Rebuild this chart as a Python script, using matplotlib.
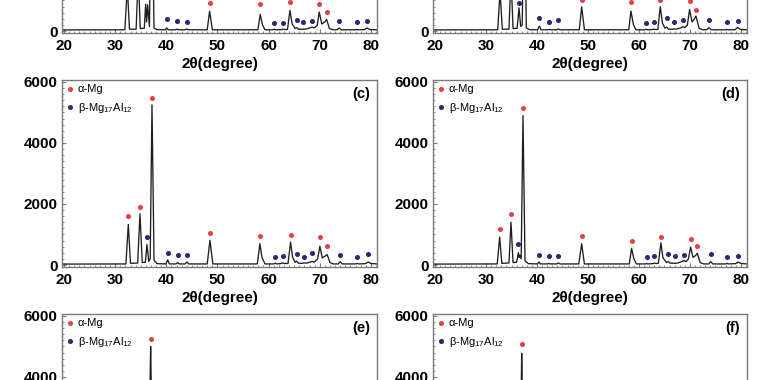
import matplotlib

matplotlib.use("Agg")

import matplotlib.pyplot as plt
from matplotlib.lines import Line2D
from matplotlib.ticker import MultipleLocator

plt.rcParams["font.family"] = ["Liberation Sans", "DejaVu Sans"]
plt.rcParams["mathtext.default"] = "regular"

RED = "#e4404a"
BLUE = "#262a6e"

# XRD traces, (2theta, intensity) vertices
TRACE_A = [
    (19.6, 35), (31.9, 40), (32.37, 1450), (32.8, 60), (34.1, 60), (34.52, 1900), (34.9, 80),
    (35.7, 90), (35.96, 880), (36.15, 300), (36.35, 860), (36.7, 150), (37.14, 5200), (37.6, 90),
    (38.2, 45), (39.8, 40), (40.07, 100), (40.4, 40), (41.8, 40), (42.08, 60), (42.4, 40),
    (43.7, 40), (43.98, 70), (44.3, 40), (48.0, 40), (48.47, 653), (49.0, 40),
    (57.9, 40), (58.37, 545), (58.8, 200), (59.3, 40), (60.8, 40), (61.1, 55), (61.4, 40),
    (62.5, 45), (62.74, 60), (63.0, 50), (63.7, 50), (64.17, 675), (64.6, 230), (65.2, 80),
    (65.48, 110), (65.8, 60), (66.4, 55), (66.65, 60), (67.2, 60), (68.1, 100), (68.47, 130),
    (68.9, 100), (69.5, 180), (69.9, 621), (70.4, 230), (71.0, 300), (71.34, 382), (71.9, 80),
    (72.6, 40), (73.4, 40), (73.81, 100), (74.2, 40), (76.9, 40), (77.2, 50), (77.5, 40),
    (78.8, 45), (79.2, 100), (79.8, 50), (81.2, 40),
]
TRACE_B = [
    (19.6, 35), (32.3, 40), (32.75, 1300), (33.2, 60), (34.5, 60), (34.9, 1800), (35.3, 80),
    (36.1, 90), (36.47, 760), (36.8, 150), (37.1, 200), (37.51, 5100), (37.9, 100), (38.5, 45),
    (40.1, 40), (40.46, 160), (40.8, 40), (42.1, 40), (42.42, 55), (42.7, 40), (43.9, 40),
    (44.18, 70), (44.5, 40), (48.3, 40), (48.76, 795), (49.3, 40), (58.0, 40), (58.43, 653),
    (58.9, 220), (59.4, 40), (61.1, 40), (61.37, 55), (61.7, 40), (62.6, 45), (62.94, 60),
    (63.2, 50), (63.7, 50), (64.18, 795), (64.6, 260), (65.1, 90), (65.43, 130), (65.8, 60),
    (66.6, 55), (66.86, 70), (67.3, 60), (68.2, 100), (68.56, 140), (69.0, 110), (69.5, 200),
    (69.93, 708), (70.4, 300), (70.8, 380), (71.18, 490), (71.8, 90), (72.5, 40), (73.3, 40),
    (73.73, 110), (74.2, 40), (76.9, 40), (77.2, 50), (77.5, 40), (78.9, 45), (79.35, 120),
    (79.9, 50), (81.2, 40),
]
TRACE_C = [
    (19.6, 30), (32.1, 35), (32.57, 1330), (33.0, 55), (34.4, 65), (34.85, 1680), (35.3, 80),
    (35.9, 90), (36.22, 676), (36.55, 120), (36.85, 200), (37.2, 5250), (37.6, 150), (38.2, 45),
    (39.9, 35), (40.27, 170), (40.6, 35), (41.9, 35), (42.22, 80), (42.5, 35), (43.7, 35),
    (44.04, 100), (44.4, 35), (48.0, 35), (48.53, 810), (49.1, 35), (57.8, 35), (58.3, 700),
    (58.7, 250), (59.3, 35), (61.0, 35), (61.29, 60), (61.6, 35), (62.4, 45), (62.74, 70),
    (63.0, 50), (63.8, 50), (64.3, 750), (64.7, 250), (65.2, 90), (65.48, 130), (65.8, 60),
    (66.6, 55), (66.9, 70), (67.4, 60), (68.2, 100), (68.52, 120), (68.9, 90), (69.6, 200),
    (70.03, 620), (70.5, 230), (71.1, 300), (71.46, 340), (72.0, 80), (72.6, 35), (73.6, 35),
    (74.0, 110), (74.4, 35), (77.0, 35), (77.32, 50), (77.6, 35), (79.0, 45), (79.47, 100),
    (80.0, 50), (81.2, 35),
]
TRACE_D = [
    (19.6, 30), (32.2, 35), (32.68, 915), (33.1, 55), (34.5, 65), (34.9, 1404), (35.3, 80),
    (36.0, 90), (36.34, 404), (36.5, 250), (36.65, 330), (36.9, 200), (37.25, 4899), (37.65, 130),
    (38.3, 45), (40.1, 35), (40.39, 100), (40.7, 35), (42.0, 35), (42.29, 50), (42.6, 35),
    (43.9, 35), (44.18, 70), (44.5, 35), (48.2, 35), (48.76, 697), (49.3, 35), (58.1, 35),
    (58.56, 545), (59.0, 200), (59.5, 35), (61.2, 35), (61.5, 45), (61.8, 35), (62.7, 45),
    (63.0, 60), (63.3, 50), (63.8, 50), (64.31, 730), (64.7, 240), (65.4, 80), (65.75, 110),
    (66.1, 60), (66.8, 55), (67.06, 60), (67.5, 60), (68.4, 110), (68.82, 150), (69.2, 110),
    (69.7, 200), (70.13, 588), (70.6, 250), (71.1, 310), (71.44, 382), (72.0, 80), (72.7, 35),
    (73.7, 35), (74.05, 110), (74.5, 35), (77.0, 35), (77.3, 50), (77.6, 35), (79.0, 45),
    (79.5, 100), (80.0, 50), (81.2, 35),
]
TRACE_E = [
    (19.6, 30), (32.0, 35), (32.4, 1100), (32.8, 55), (34.2, 60), (34.6, 1500), (35.0, 80),
    (35.8, 90), (36.1, 600), (36.45, 150), (36.94, 5000), (37.35, 120), (38.0, 45), (40.0, 35),
    (40.3, 140), (40.6, 35), (48.0, 35), (48.45, 700), (49.0, 35), (57.8, 35), (58.3, 600),
    (58.8, 35), (63.8, 45), (64.25, 650), (64.8, 45), (69.5, 45), (69.95, 550), (70.6, 200),
    (71.4, 300), (72.0, 45), (81.2, 35),
]
TRACE_F = [
    (19.6, 30), (32.2, 35), (32.6, 850), (33.0, 55), (34.4, 60), (34.85, 1300), (35.3, 80),
    (36.0, 90), (36.35, 400), (36.65, 150), (37.0, 4780), (37.4, 120), (38.0, 45), (40.1, 35),
    (40.4, 100), (40.7, 35), (48.2, 35), (48.7, 650), (49.2, 35), (58.0, 35), (58.5, 520),
    (59.0, 35), (63.9, 45), (64.3, 700), (64.8, 45), (69.6, 45), (70.1, 560), (70.7, 220),
    (71.45, 360), (72.0, 45), (81.2, 35),
]

# phase markers: 2theta positions and marker heights
ALPHA_A_X = [32.37, 34.52, 37.14, 48.47, 58.37, 64.17, 69.9, 71.34]
ALPHA_A_Y = [1700, 2150, 5450, 927, 871, 947, 871, 632]
BETA_A_X = [36.2, 40.07, 42.08, 43.98, 61.1, 62.74, 65.48, 66.65, 68.47, 73.81, 77.2, 79.2]
BETA_A_Y = [1130, 382, 327, 305, 273, 273, 349, 294, 316, 316, 294, 327]

ALPHA_B_X = [32.75, 34.9, 37.51, 48.76, 58.43, 64.18, 69.93, 71.18]
ALPHA_B_Y = [1550, 2050, 5350, 1030, 947, 1030, 980, 686]
BETA_B_X = [36.47, 40.46, 42.42, 44.18, 61.37, 62.94, 65.43, 66.86, 68.56, 73.73, 77.2, 79.35]
BETA_B_Y = [927, 437, 294, 349, 273, 305, 437, 294, 349, 360, 294, 327]

ALPHA_C_X = [32.57, 34.85, 37.2, 48.53, 58.3, 64.3, 70.03, 71.46]
ALPHA_C_Y = [1600, 1895, 5488, 1046, 937, 970, 915, 621]
BETA_C_X = [36.22, 40.27, 42.22, 44.04, 61.29, 62.74, 65.48, 66.9, 68.52, 74.0, 77.32, 79.47]
BETA_C_Y = [927, 405, 327, 327, 274, 290, 359, 261, 382, 340, 274, 350]

ALPHA_D_X = [32.68, 34.9, 37.25, 48.76, 58.56, 64.31, 70.13, 71.44]
ALPHA_D_Y = [1176, 1656, 5141, 947, 773, 915, 838, 610]
BETA_D_X = [36.34, 40.39, 42.29, 44.18, 61.5, 63.0, 65.75, 67.06, 68.82, 74.05, 77.3, 79.5]
BETA_D_Y = [697, 327, 283, 283, 272, 283, 348, 283, 327, 348, 261, 305]

ALPHA_E_X = [32.4, 34.6, 36.94, 48.45, 58.3, 64.25, 69.95, 71.4]
ALPHA_E_Y = [1350, 1750, 5250, 950, 850, 900, 800, 550]
BETA_E_X = [36.1, 40.3, 42.2, 44.0, 61.3, 62.7, 65.5, 66.9, 68.5, 74.0, 77.3, 79.5]
BETA_E_Y = [850, 390, 320, 320, 280, 290, 350, 270, 370, 340, 270, 340]

ALPHA_F_X = [32.6, 34.85, 37.0, 48.7, 58.5, 64.3, 70.1, 71.45]
ALPHA_F_Y = [1100, 1550, 5080, 900, 770, 950, 810, 610]
BETA_F_X = [36.35, 40.4, 42.3, 44.2, 61.5, 63.0, 65.7, 67.0, 68.8, 74.0, 77.3, 79.5]
BETA_F_Y = [680, 330, 290, 290, 270, 290, 350, 290, 330, 350, 260, 300]

X_TICKS = [20, 30, 40, 50, 60, 70, 80]
Y_TICKS = [0, 2000, 4000, 6000]
X_LABEL = "2θ(degree)"
ALPHA_LABEL = "α-Mg"
BETA_LABEL = "β-Mg$_{17}$Al$_{12}$"

PANELS = [
    ("(a)", TRACE_A, ALPHA_A_X, ALPHA_A_Y, BETA_A_X, BETA_A_Y),
    ("(b)", TRACE_B, ALPHA_B_X, ALPHA_B_Y, BETA_B_X, BETA_B_Y),
    ("(c)", TRACE_C, ALPHA_C_X, ALPHA_C_Y, BETA_C_X, BETA_C_Y),
    ("(d)", TRACE_D, ALPHA_D_X, ALPHA_D_Y, BETA_D_X, BETA_D_Y),
    ("(e)", TRACE_E, ALPHA_E_X, ALPHA_E_Y, BETA_E_X, BETA_E_Y),
    ("(f)", TRACE_F, ALPHA_F_X, ALPHA_F_Y, BETA_F_X, BETA_F_Y),
]

# figure shows only the middle of a 3x2 grid, outer rows are clipped
COL_LEFT = [0.0807, 0.5638]
COL_WIDTH = [0.4102, 0.4089]
ROW_BOTTOM = [0.9132, 0.2974, -0.3184]
ROW_HEIGHT = 0.4921
SPINE = "#7a7a7a"
MS = 2.6

fig = plt.figure(figsize=(7.68, 3.80), dpi=100)

for i, (tag, trace, ax_x, ax_y, bx_x, bx_y) in enumerate(PANELS):
    row, col = divmod(i, 2)
    ax = fig.add_axes([COL_LEFT[col], ROW_BOTTOM[row], COL_WIDTH[col], ROW_HEIGHT])

    tx = [p[0] for p in trace]
    ty = [p[1] for p in trace]
    ax.plot(tx, ty, color="#1e1e1e", linewidth=0.95)
    ax.plot(ax_x, ax_y, linestyle="none", marker="o", markersize=MS, color=RED)
    ax.plot(bx_x, bx_y, linestyle="none", marker="o", markersize=MS, color=BLUE)

    ax.set_xlim(19.6, 81.2)
    ax.set_ylim(-65, 6065)
    ax.set_xticks(X_TICKS)
    ax.set_yticks(Y_TICKS)
    ax.xaxis.set_minor_locator(MultipleLocator(1))
    ax.yaxis.set_minor_locator(MultipleLocator(200))
    ax.tick_params(which="major", direction="in", length=3, width=0.8, color=SPINE,
                   labelsize=11)
    ax.tick_params(axis="x", which="major", pad=4)
    ax.tick_params(axis="y", which="major", pad=3)
    ax.tick_params(which="minor", direction="in", length=1.5, width=0.6, color=SPINE)
    plt.setp(ax.get_xticklabels() + ax.get_yticklabels(), fontweight="bold")
    for s in ax.spines.values():
        s.set_color(SPINE)
        s.set_linewidth(1.0)

    ax.set_xlabel(X_LABEL, fontsize=11, fontweight="bold", labelpad=3)

    handles = [
        Line2D([], [], linestyle="none", marker="o", markersize=MS, color=RED, label=ALPHA_LABEL),
        Line2D([], [], linestyle="none", marker="o", markersize=MS, color=BLUE, label=BETA_LABEL),
    ]
    ax.legend(handles=handles, loc="upper left", frameon=False, fontsize=8,
              handlelength=0.6, handletextpad=0.4, labelspacing=0.55,
              borderaxespad=0.2, borderpad=0.2)
    ax.text(0.978, 0.965, tag, transform=ax.transAxes, ha="right", va="top",
            fontsize=10.5, fontweight="bold")

fig.savefig("out.png", dpi=100)
